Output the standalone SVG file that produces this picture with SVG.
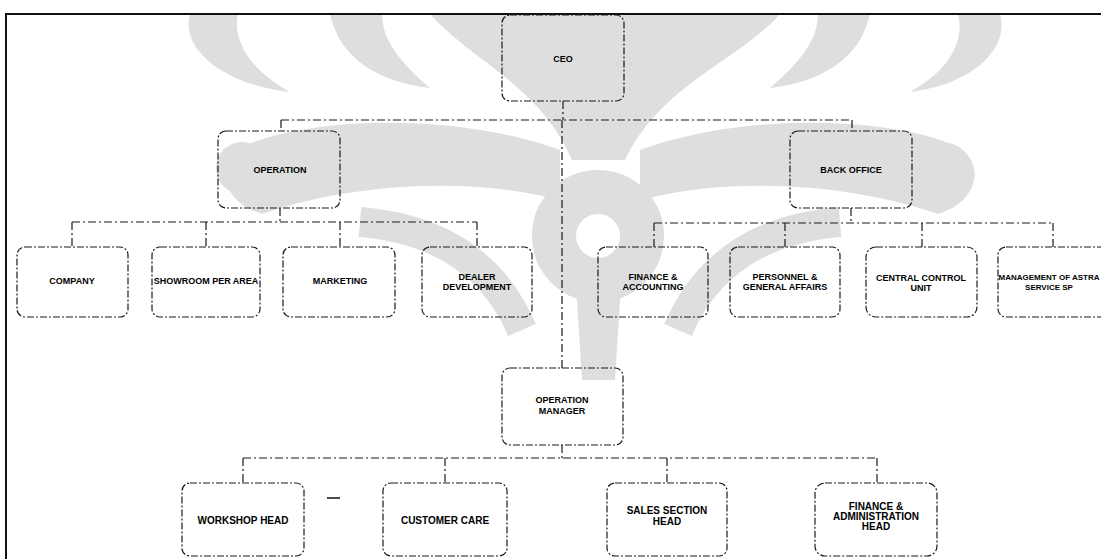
<svg xmlns="http://www.w3.org/2000/svg" width="1101" height="559" viewBox="0 0 1101 559">
<style>
.wm{fill:#dedede;stroke:none}
.wms{fill:none;stroke:#dedede}
.box{fill:none;stroke:#1a1a1a;stroke-width:1.2;stroke-dasharray:7 2 2 2}
.con{fill:none;stroke:#1a1a1a;stroke-width:1.2;stroke-dasharray:8 3 2 3}
.t{font-family:"Liberation Sans",Arial,sans-serif;font-weight:bold;font-size:9px;fill:#000;text-anchor:middle}
.tb{font-family:"Liberation Sans",Arial,sans-serif;font-weight:bold;font-size:10px;fill:#000;text-anchor:middle}
</style>
<rect x="0" y="0" width="1101" height="559" fill="#fff"/>
<g id="watermark">
<path class="wm" d="M430,14 L780,14 C740,60 660,85 625,160 L572,160 C540,85 470,60 430,14 Z"/>
<path class="wm" d="M190,14 C180,50 225,85 290,92 C250,70 232,40 238,14 Z"/>
<path class="wm" d="M330,14 C340,60 380,82 430,88 C400,62 382,40 382,14 Z"/>
<path class="wm" d="M1000,14 C1010,50 970,85 910,92 C950,70 965,40 958,14 Z"/>
<path class="wm" d="M870,14 C860,60 820,82 770,88 C800,62 818,40 818,14 Z"/>
<path class="wm" d="M240,148 C300,118 450,110 560,150 L560,200 C450,172 330,190 262,214 C222,202 215,165 240,148 Z"/>
<circle class="wm" cx="242" cy="168" r="26"/>
<path class="wm" d="M960,148 C900,118 750,110 640,150 L640,200 C750,172 870,190 938,214 C978,202 985,165 960,148 Z"/>
<circle class="wm" cx="946" cy="166" r="23"/>
<circle class="wms" cx="598" cy="236" r="44" stroke-width="44"/>
<path class="wms" d="M360,222 Q480,232 522,330" stroke-width="30"/>
<path class="wms" d="M840,222 Q720,232 678,330" stroke-width="30"/>
<path class="wm" d="M575,270 L622,270 L615,380 L582,380 Z"/>
</g>
<g id="frame">
<line x1="5" y1="14" x2="1101" y2="14" stroke="#111" stroke-width="2"/>
<line x1="6" y1="14" x2="6" y2="559" stroke="#111" stroke-width="2"/>
</g>
<g id="connectors">
<path class="con" d="M563,101 V120"/>
<path class="con" d="M281,120 H852 M281,120 V131 M852,120 V131"/>
<path class="con" d="M562,120 V368"/>
<path class="con" d="M280,208 V222 M72,222 H477 M72,222 V247 M206,222 V247 M340,222 V247 M477,222 V247"/>
<path class="con" d="M851,208 V223 M654,223 H1053 M654,223 V247 M785,223 V247 M922,223 V247 M1053,223 V247"/>
<path class="con" d="M562,445 V458 M243,458 H877 M243,458 V483 M445,458 V483 M667,458 V483 M877,458 V483"/>
<line x1="327" y1="498" x2="340" y2="498" stroke="#111" stroke-width="1.5"/>
</g>
<g id="ceo">
<rect class="box" x="502" y="15" width="122" height="86" rx="8"/>
<text class="t" x="563" y="62">CEO</text>
</g>
<g id="operation">
<rect class="box" x="218" y="131" width="122" height="77" rx="8"/>
<text class="t" x="280" y="173">OPERATION</text>
</g>
<g id="back-office">
<rect class="box" x="790" y="131" width="122" height="77" rx="8"/>
<text class="t" x="851" y="173">BACK OFFICE</text>
</g>
<g id="company">
<rect class="box" x="17" y="247" width="111" height="70" rx="8"/>
<text class="t" x="72" y="284">COMPANY</text>
</g>
<g id="showroom">
<rect class="box" x="152" y="247" width="108" height="70" rx="8"/>
<text class="t" x="206" y="284">SHOWROOM PER AREA</text>
</g>
<g id="marketing">
<rect class="box" x="283" y="247" width="112" height="70" rx="8"/>
<text class="t" x="340" y="284">MARKETING</text>
</g>
<g id="dealer-development">
<rect class="box" x="422" y="247" width="110" height="70" rx="8"/>
<text class="t" x="477" y="280">DEALER</text>
<text class="t" x="477" y="290">DEVELOPMENT</text>
</g>
<g id="finance-accounting">
<rect class="box" x="598" y="247" width="110" height="70" rx="8"/>
<text class="t" x="653" y="280">FINANCE &amp;</text>
<text class="t" x="653" y="290">ACCOUNTING</text>
</g>
<g id="personnel">
<rect class="box" x="730" y="247" width="110" height="70" rx="8"/>
<text class="t" x="785" y="280">PERSONNEL &amp;</text>
<text class="t" x="785" y="290">GENERAL AFFAIRS</text>
</g>
<g id="central-control">
<rect class="box" x="866" y="247" width="111" height="70" rx="10"/>
<text class="t" x="921" y="281">CENTRAL CONTROL</text>
<text class="t" x="921" y="291">UNIT</text>
</g>
<g id="management-service">
<rect class="box" x="998" y="247" width="110" height="70" rx="8"/>
<text class="t" x="1049" y="280" style="font-size:8px">MANAGEMENT OF ASTRA</text>
<text class="t" x="1049" y="290" style="font-size:8px">SERVICE SP</text>
</g>
<g id="operation-manager">
<rect class="box" x="502" y="368" width="121" height="77" rx="8"/>
<text class="t" x="562" y="403">OPERATION</text>
<text class="t" x="562" y="414">MANAGER</text>
</g>
<g id="workshop-head">
<rect class="box" x="182" y="483" width="122" height="73" rx="8"/>
<text class="tb" x="243" y="524">WORKSHOP HEAD</text>
</g>
<g id="customer-care">
<rect class="box" x="383" y="483" width="124" height="73" rx="8"/>
<text class="tb" x="445" y="524">CUSTOMER CARE</text>
</g>
<g id="sales-section-head">
<rect class="box" x="607" y="483" width="120" height="73" rx="8"/>
<text class="tb" x="667" y="514">SALES SECTION</text>
<text class="tb" x="667" y="525">HEAD</text>
</g>
<g id="finance-admin-head">
<rect class="box" x="815" y="483" width="122" height="73" rx="10"/>
<text class="tb" x="876" y="510">FINANCE &amp;</text>
<text class="tb" x="876" y="520">ADMINISTRATION</text>
<text class="tb" x="876" y="530">HEAD</text>
</g>
</svg>
